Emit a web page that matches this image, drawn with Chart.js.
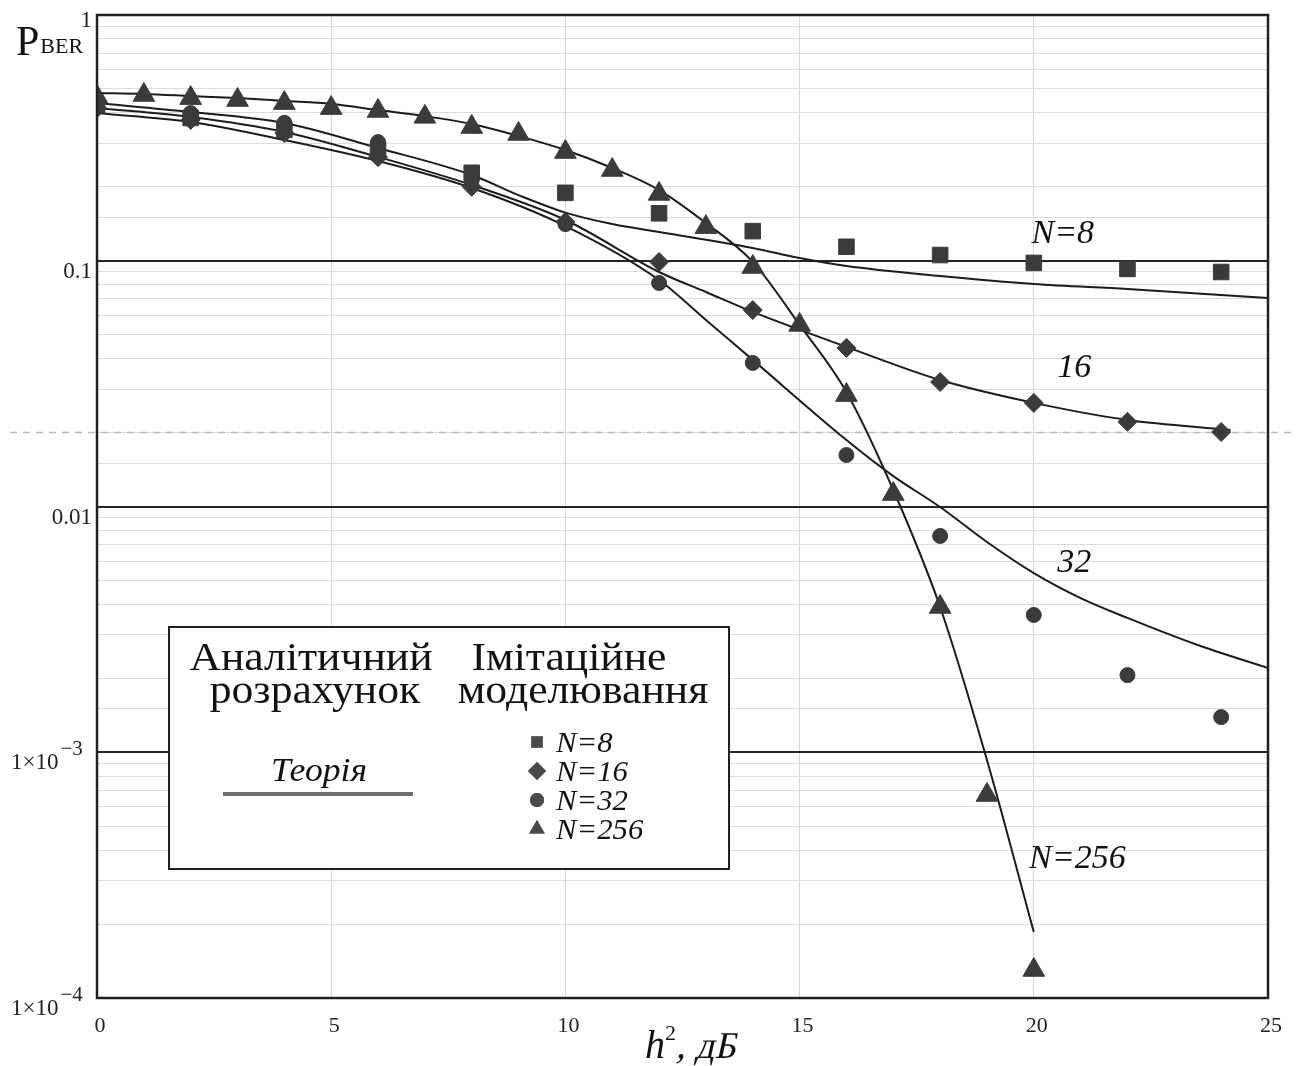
<!DOCTYPE html>
<html>
<head>
<meta charset="utf-8">
<script src="https://cdn.jsdelivr.net/npm/chart.js@4.4.0/dist/chart.umd.min.js"></script>
<style>
  html, body { margin: 0; padding: 0; background: #fff; }
  #wrap { width: 1301px; height: 1066px; }
</style>
</head>
<body>
<div id="wrap"><canvas id="berChart" width="1301" height="1066"></canvas></div>
<script>
// BER vs h^2 (dB): theory curves + simulation points for N = 8, 16, 32, 256

// simulation points
const xSim = [0, 2, 4, 6, 8, 10, 12, 14, 16, 18, 20, 22, 24];
const simN8  = [0.430, 0.381, 0.341, 0.282, 0.228, 0.189, 0.156, 0.132, 0.114, 0.1055, 0.098, 0.0926, 0.090];
const simN16 = [0.418, 0.374, 0.331, 0.264, 0.200, 0.144, 0.0989, 0.063, 0.0442, 0.0321, 0.0264, 0.0221, 0.0201];
const simN32 = [0.434, 0.399, 0.364, 0.304, 0.213, 0.141, 0.0812, 0.0384, 0.0162, 0.00759, 0.00362, 0.00206, 0.00139];
const xSim256 = [0, 1, 2, 3, 4, 5, 6, 7, 8, 9, 10, 11, 12, 13, 14, 15, 16, 17, 18, 19, 20];
const simN256 = [0.464, 0.4725, 0.459, 0.451, 0.438, 0.418, 0.407, 0.385, 0.350, 0.328, 0.277, 0.234, 0.187,
                 0.137, 0.0943, 0.0548, 0.0284, 0.01124, 0.0039, 0.00067, 0.00013];

// theory curves
const xTh8  = [0, 2, 4, 6, 8, 9, 10, 11, 12, 14, 15, 16, 18, 20, 22, 25];
const thN8  = [0.4385, 0.403, 0.3635, 0.2876, 0.2233, 0.185, 0.157, 0.141, 0.1309, 0.1127, 0.1026, 0.0952, 0.0867, 0.0804, 0.0767, 0.0705];
const xTh16 = [0, 2, 4, 6, 8, 10, 12, 13, 14, 16, 18, 20, 22, 24.2];
const thN16 = [0.418, 0.3845, 0.3342, 0.2644, 0.2033, 0.1465, 0.090, 0.0746, 0.0619, 0.0446, 0.0327, 0.0264, 0.0225, 0.0205];
const xTh32 = [0, 2, 4, 6, 8, 10, 12, 13, 14, 16, 17, 18, 19, 20, 21, 22, 23.5, 25];
const thN32 = [0.3994, 0.367, 0.31, 0.2546, 0.1977, 0.1384, 0.0835, 0.0574, 0.0395, 0.01865, 0.0133, 0.00995,
               0.00717, 0.00536, 0.00424, 0.00352, 0.00273, 0.0022];
const xTh256 = [0, 1, 2, 3, 4, 5, 6, 7, 8, 9, 10, 11, 12, 13, 14, 15, 16, 17, 18, 19, 20];
const thN256 = [0.4816, 0.477, 0.468, 0.459, 0.4467, 0.4344, 0.4106, 0.388, 0.36, 0.3218, 0.2823, 0.2384, 0.194,
                0.1424, 0.0989, 0.0548, 0.0292, 0.01167, 0.0039, 0.00093, 0.0001856];

// tick labels
const xTicks = [0, 5, 10, 15, 20, 25];
const yTickValues = [1, 0.1, 0.01, 0.001, 0.0001];
const yTickBase = ["1", "0.1", "0.01", "1\u00d710", "1\u00d710"];
const yTickExp = ["", "", "", "\u22123", "\u22124"];

// curve labels on the plot
const curveLabels = ["N=8", "16", "32", "N=256"];
const curveLabelX = [19.95, 20.5, 20.5, 19.9];
const curveLabelY = [0.118, 0.0336, 0.0054, 0.000338];

const refLine = 0.02;

const MARK = "#3b3b3b";
const LINE = "#1c1c1c";
const SERIF = "'Liberation Serif', 'Times New Roman', serif";

function pts(xs, ys) {
    return xs.map((x, i) => ({ x: x, y: ys[i] }));
}

function theory(xs, ys) {
    return {
        data: pts(xs, ys),
        showLine: true,
        borderColor: LINE,
        borderWidth: 2,
        pointRadius: 0,
        cubicInterpolationMode: "monotone",
        fill: false,
        order: 2
    };
}

function sim(xs, ys, style, r) {
    return {
        data: pts(xs, ys),
        showLine: false,
        pointStyle: style,
        pointRadius: r,
        pointBackgroundColor: MARK,
        pointBorderColor: MARK,
        pointBorderWidth: 1,
        order: 1
    };
}

function isDecade(v) {
    const l = Math.log10(v);
    return Math.abs(l - Math.round(l)) < 1e-6;
}

// text stretched a bit horizontally (the original glyphs are wider than Liberation Serif)
function wideText(ctx, text, x, y, sx) {
    ctx.save();
    ctx.translate(x, y);
    ctx.scale(sx, 1);
    ctx.fillText(text, 0, 0);
    ctx.restore();
}

// everything the library doesn't draw itself: frame, labels, legend box
const decor = {
    id: "decor",
    beforeDatasetsDraw(chart) {
        const ctx = chart.ctx;
        const y = chart.scales.y;
        const py = y.getPixelForValue(refLine);
        ctx.save();
        ctx.strokeStyle = "#b8b8b8";
        ctx.lineWidth = 1.5;
        ctx.setLineDash([7, 6]);
        ctx.beginPath();
        ctx.moveTo(10, py);
        ctx.lineTo(1292, py);
        ctx.stroke();
        ctx.restore();
    },
    afterDraw(chart) {
        const ctx = chart.ctx;
        const a = chart.chartArea;
        const xs = chart.scales.x;
        const ys = chart.scales.y;
        ctx.save();

        // frame
        ctx.strokeStyle = "#202020";
        ctx.lineWidth = 2.5;
        ctx.strokeRect(a.left, a.top, a.right - a.left, a.bottom - a.top);

        // x tick labels
        ctx.fillStyle = "#222";
        ctx.font = "22px " + SERIF;
        ctx.textAlign = "center";
        ctx.textBaseline = "alphabetic";
        xTicks.forEach(v => {
            ctx.fillText(String(v), xs.getPixelForValue(v) + 3, a.bottom + 34);
        });

        // y tick labels
        yTickValues.forEach((v, i) => {
            const p = ys.getPixelForValue(v);
            const base = i === 0 ? p + 12 : p + 17;
            ctx.font = "23px " + SERIF;
            if (yTickExp[i]) {
                ctx.textAlign = "left";
                ctx.fillText(yTickBase[i], 11, base);
                const w = ctx.measureText(yTickBase[i]).width;
                ctx.font = "21px " + SERIF;
                ctx.fillText(yTickExp[i], 11 + w + 2, base - 14);
            } else {
                ctx.textAlign = "right";
                ctx.fillText(yTickBase[i], 92, base);
            }
        });

        // y title P_BER
        ctx.textAlign = "left";
        ctx.fillStyle = "#111";
        ctx.font = "42px " + SERIF;
        ctx.fillText("P", 16, 55);
        const pw = ctx.measureText("P").width;
        ctx.font = "22px " + SERIF;
        ctx.fillText("BER", 16 + pw + 1, 53);

        // x title h^2, дБ
        ctx.font = "italic 40px " + SERIF;
        let tx = 645;
        ctx.fillText("h", tx, 1058);
        tx += ctx.measureText("h").width;
        ctx.font = "22px " + SERIF;
        ctx.fillText("2", tx, 1040);
        tx += ctx.measureText("2").width;
        ctx.save();
        ctx.translate(tx, 1058);
        ctx.transform(1, 0, -0.22, 1, 0, 0);
        ctx.font = "38px " + SERIF;
        ctx.fillText(", дБ", 0, 0);
        ctx.restore();

        // curve labels
        ctx.font = "italic 34px " + SERIF;
        ctx.textAlign = "left";
        curveLabels.forEach((t, i) => {
            ctx.fillText(t, xs.getPixelForValue(curveLabelX[i]), ys.getPixelForValue(curveLabelY[i]));
        });

        // legend box
        const bx = 169, by = 627, bw = 560, bh = 242;
        ctx.fillStyle = "#fff";
        ctx.fillRect(bx, by, bw, bh);
        ctx.strokeStyle = "#202020";
        ctx.lineWidth = 2;
        ctx.strokeRect(bx, by, bw, bh);

        ctx.fillStyle = "#111";
        ctx.textAlign = "center";
        ctx.font = "39px " + SERIF;
        wideText(ctx, "Аналітичний", 311, 670, 1.12);
        wideText(ctx, "розрахунок", 315, 703, 1.12);
        wideText(ctx, "Імітаційне", 569, 670, 1.12);
        wideText(ctx, "моделювання", 583, 703, 1.12);

        ctx.font = "italic 33px " + SERIF;
        wideText(ctx, "Теорія", 319, 781, 1.08);
        ctx.strokeStyle = "#6e6e6e";
        ctx.lineWidth = 4;
        ctx.beginPath();
        ctx.moveTo(223, 794);
        ctx.lineTo(413, 794);
        ctx.stroke();

        const lgStyles = ["rect", "rectRot", "circle", "triangle"];
        const lgRad = [8, 9, 7, 9];
        const lgText = ["N=8", "N=16", "N=32", "N=256"];
        ctx.fillStyle = "#4a4a4a";
        lgStyles.forEach((s, i) => {
            const cy = 742 + i * 29;
            Chart.helpers.drawPoint(ctx, { pointStyle: s, radius: lgRad[i], borderWidth: 0 }, 537, cy);
            ctx.fill();
        });
        ctx.fillStyle = "#111";
        ctx.textAlign = "left";
        ctx.font = "italic 29px " + SERIF;
        lgText.forEach((t, i) => {
            wideText(ctx, t, 556, 752 + i * 29, 1.06);
        });

        ctx.restore();
    }
};

const ctx = document.getElementById("berChart").getContext("2d");

new Chart(ctx, {
    type: "line",
    data: {
        datasets: [
            theory(xTh8, thN8),
            theory(xTh16, thN16),
            theory(xTh32, thN32),
            theory(xTh256, thN256),
            sim(xSim, simN8, "rect", 11),
            sim(xSim, simN16, "rectRot", 9.5),
            sim(xSim, simN32, "circle", 7.5),
            sim(xSim256, simN256, "triangle", 12.5)
        ]
    },
    options: {
        responsive: false,
        animation: false,
        layout: { padding: { left: 97, right: 33, top: 15, bottom: 68 } },
        plugins: {
            legend: { display: false },
            tooltip: { enabled: false }
        },
        scales: {
            x: {
                type: "linear",
                min: 0,
                max: 25,
                ticks: { stepSize: 5, display: false },
                grid: { color: "#d6d6d6", lineWidth: 1, drawTicks: false },
                border: { display: false }
            },
            y: {
                type: "logarithmic",
                min: 0.0001,
                max: 1,
                ticks: { display: false },
                grid: {
                    drawTicks: false,
                    color: c => isDecade(c.tick.value) ? "#262626" : "#dcdcdc",
                    lineWidth: c => isDecade(c.tick.value) ? 2 : 1
                },
                border: { display: false }
            }
        }
    },
    plugins: [decor]
});
</script>
</body>
</html>
